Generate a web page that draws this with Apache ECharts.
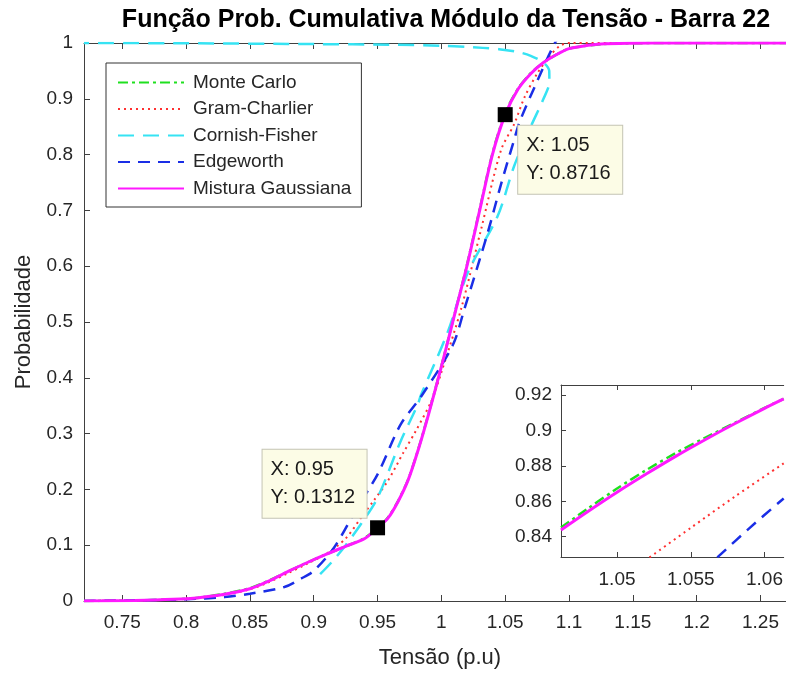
<!DOCTYPE html>
<html><head><meta charset="utf-8">
<script src="https://cdn.jsdelivr.net/npm/echarts@6/dist/echarts.min.js"></script>
<style>html,body{margin:0;padding:0;background:#fff}#c{width:786px;height:674px}</style>
</head><body><div id="c"></div>
<script>
// ---------- tick labels ----------
const xTicks = [0.75, 0.8, 0.85, 0.9, 0.95, 1, 1.05, 1.1, 1.15, 1.2, 1.25];
const yTicks = [0, 0.1, 0.2, 0.3, 0.4, 0.5, 0.6, 0.7, 0.8, 0.9, 1];
const insetXTicks = [1.05, 1.055, 1.06];
const insetYTicks = [0.84, 0.86, 0.88, 0.9, 0.92];

const names = ['Monte Carlo', 'Gram-Charlier', 'Cornish-Fisher', 'Edgeworth', 'Mistura Gaussiana'];

// ---------- main curves ----------
const mgX = [0.72, 0.76, 0.79, 0.81, 0.83, 0.85, 0.865, 0.88, 0.895, 0.91, 0.925, 0.94, 0.95, 0.958, 0.966, 0.974, 0.982, 0.99, 1.0, 1.01, 1.02, 1.03, 1.04, 1.05, 1.06, 1.07, 1.08, 1.09, 1.1, 1.11, 1.125, 1.15, 1.18, 1.3];
const mgY = [0.000, 0.001, 0.003, 0.006, 0.012, 0.022, 0.036, 0.053, 0.069, 0.084, 0.098, 0.112, 0.1312, 0.148, 0.178, 0.217, 0.272, 0.335, 0.42, 0.51, 0.60, 0.70, 0.80, 0.8716, 0.917, 0.945, 0.965, 0.979, 0.99, 0.994, 0.998, 0.9995, 1.0, 1.0];

const mcX = [0.72, 0.76, 0.79, 0.81, 0.83, 0.85, 0.865, 0.88, 0.895, 0.91, 0.925, 0.94, 0.95, 0.958, 0.966, 0.974, 0.982, 0.99, 1.0, 1.01, 1.02, 1.03, 1.04, 1.05, 1.06, 1.07, 1.08, 1.09, 1.1, 1.11, 1.125, 1.15, 1.18, 1.3];
const mcY = [0.000, 0.001, 0.003, 0.006, 0.013, 0.023, 0.037, 0.053, 0.069, 0.084, 0.098, 0.113, 0.131, 0.149, 0.179, 0.218, 0.273, 0.336, 0.421, 0.511, 0.602, 0.702, 0.802, 0.874, 0.918, 0.946, 0.965, 0.979, 0.99, 0.994, 0.998, 0.9995, 1.0, 1.0];

const gcX = [0.72, 0.76, 0.79, 0.81, 0.83, 0.85, 0.865, 0.88, 0.895, 0.91, 0.925, 0.937, 0.947, 0.958, 0.97, 0.98, 0.9925, 1.0, 1.0154, 1.031, 1.0467, 1.0571, 1.065, 1.075, 1.085, 1.093, 1.1, 1.3];
const gcY = [0.000, 0.001, 0.003, 0.006, 0.011, 0.021, 0.034, 0.050, 0.067, 0.085, 0.112, 0.149, 0.18, 0.215, 0.265, 0.305, 0.36, 0.41, 0.523, 0.665, 0.808, 0.855, 0.902, 0.945, 0.977, 0.995, 1.0, 1.0];

const cfX = [0.905, 0.915, 0.925, 0.937, 0.95, 0.968, 0.9813, 0.984, 1.005, 1.0206, 1.0441, 1.0571, 1.07, 1.08, 1.0846, 1.0845, 1.08, 1.07, 1.06, 1.045, 1.02, 1.0, 0.96, 0.9, 0.8, 0.72];
const cfY = [0.048, 0.072, 0.100, 0.138, 0.185, 0.286, 0.351, 0.369, 0.482, 0.588, 0.69, 0.78, 0.85, 0.90, 0.93, 0.95, 0.965, 0.977, 0.984, 0.989, 0.993, 0.995, 0.997, 0.998, 0.9995, 1.0];

const ewX = [0.72, 0.78, 0.80, 0.83, 0.85, 0.877, 0.89, 0.90, 0.916, 0.934, 0.95, 0.968, 0.984, 1.0088, 1.018, 1.0363, 1.0465, 1.0568, 1.0612, 1.0728, 1.0885, 1.1];
const ewY = [0.000, 0.002, 0.003, 0.007, 0.013, 0.025, 0.04, 0.054, 0.096, 0.167, 0.227, 0.316, 0.366, 0.458, 0.523, 0.66, 0.745, 0.825, 0.858, 0.92, 0.998, 1.04];

// ---------- inset (zoom) curves ----------
const zMgX = [1.0462, 1.048, 1.050, 1.052, 1.054, 1.056, 1.058, 1.060, 1.0613];
const zMgY = [0.8438, 0.8541, 0.8651, 0.8755, 0.8855, 0.8949, 0.9039, 0.9125, 0.9178];
const zMcX = [1.0462, 1.048, 1.050, 1.052, 1.054, 1.056, 1.058, 1.060, 1.0613];
const zMcY = [0.8452, 0.8558, 0.8672, 0.8777, 0.8873, 0.8960, 0.9043, 0.9127, 0.9178];
const zGcX = [1.0522, 1.055, 1.058, 1.0613];
const zGcY = [0.8283, 0.8450, 0.8627, 0.8814];
const zEwX = [1.0568, 1.059, 1.0613];
const zEwY = [0.8283, 0.8450, 0.8616];

// ---------- data tips ----------
const tipX = [0.95, 1.05];
const tipY = [0.1312, 0.8716];

const zip = (a, b) => a.map((v, i) => [v, b[i]]);

const FONT = 'Liberation Sans, Arial, Helvetica, sans-serif';
const AX = '#404040';
const TXT = '#262626';

const styles = [
  { color: '#1fe01f', type: [10, 4, 3, 4], width: 2.5 },
  { color: '#ff3030', type: [2, 4], width: 2 },
  { color: '#36e3f3', type: [16, 9], width: 2.5 },
  { color: '#1a2ee6', type: [12, 8], width: 2.5 },
  { color: '#ff19ff', type: 'solid', width: 3 }
];

function line(name, idx, data, xi, yi, z) {
  const s = styles[idx];
  return {
    type: 'line', name: name, data: data, xAxisIndex: xi, yAxisIndex: yi,
    symbol: 'none', showSymbol: false, smooth: 0.3, clip: true, z: z, silent: true,
    lineStyle: { color: s.color, type: s.type, width: s.width, cap: 'butt' },
    itemStyle: { color: s.color }
  };
}

const mainX = { min: 0.72, max: 1.27 };
const insetX = { min: 1.0462, max: 1.0613 };
const insetY = { min: 0.82854, max: 0.92565 };

const TIP_W = 88;

const option = {
  animation: false,
  backgroundColor: '#fff',
  title: {
    text: 'Função Prob. Cumulativa Módulo da Tensão - Barra 22',
    left: 441, top: 3, textAlign: 'center',
    textStyle: { fontFamily: FONT, fontSize: 25, fontWeight: 'bold', color: '#000' }
  },
  legend: {
    data: names, orient: 'vertical', left: 106, top: 63,
    padding: [10, 10, 9, 11], itemWidth: 66, itemHeight: 20, itemGap: 7.5,
    borderColor: '#333', borderWidth: 1, backgroundColor: '#fff', z: 20,
    itemStyle: { opacity: 0 },
    textStyle: { fontFamily: FONT, fontSize: 19, color: TXT, padding: [0, 0, 0, 4] }
  },
  grid: [
    { left: 84, top: 43, right: -2, bottom: 71, show: false },
    { left: 561, top: 385, right: -2, bottom: 117, show: true, backgroundColor: '#fff', borderWidth: 0, z: 10 }
  ],
  xAxis: [
    { type: 'value', gridIndex: 0, position: 'bottom', min: mainX.min, max: mainX.max,
      name: 'Tensão (p.u)', nameLocation: 'middle', nameGap: 46,
      nameTextStyle: { fontFamily: FONT, fontSize: 22, color: TXT, padding: [0, 0, 0, 10] },
      axisLine: { show: true, onZero: false, lineStyle: { color: AX, width: 1 } },
      axisTick: { show: true, inside: true, length: 6, customValues: xTicks, lineStyle: { color: AX } },
      axisLabel: { show: true, margin: 12, customValues: xTicks, fontFamily: FONT, fontSize: 19, color: TXT },
      splitLine: { show: false } },
    { type: 'value', gridIndex: 0, position: 'top', min: mainX.min, max: mainX.max,
      axisLine: { show: true, onZero: false, lineStyle: { color: AX, width: 1 } },
      axisTick: { show: true, inside: true, length: 6, customValues: xTicks, lineStyle: { color: AX } },
      axisLabel: { show: false }, splitLine: { show: false } },
    { type: 'value', gridIndex: 1, position: 'bottom', min: insetX.min, max: insetX.max, z: 11,
      axisLine: { show: true, onZero: false, lineStyle: { color: AX, width: 1 } },
      axisTick: { show: true, inside: true, length: 5, customValues: insetXTicks, lineStyle: { color: AX } },
      axisLabel: { show: true, margin: 13, customValues: insetXTicks, fontFamily: FONT, fontSize: 19, color: TXT },
      splitLine: { show: false } },
    { type: 'value', gridIndex: 1, position: 'top', min: insetX.min, max: insetX.max, z: 11,
      axisLine: { show: true, onZero: false, lineStyle: { color: AX, width: 1 } },
      axisTick: { show: true, inside: true, length: 5, customValues: insetXTicks, lineStyle: { color: AX } },
      axisLabel: { show: false }, splitLine: { show: false } }
  ],
  yAxis: [
    { type: 'value', gridIndex: 0, position: 'left', min: 0, max: 1,
      name: 'Probabilidade', nameLocation: 'middle', nameGap: 49,
      nameTextStyle: { fontFamily: FONT, fontSize: 22, color: TXT },
      axisLine: { show: true, onZero: false, lineStyle: { color: AX, width: 1 } },
      axisTick: { show: true, inside: true, length: 6, customValues: yTicks, lineStyle: { color: AX } },
      axisLabel: { show: true, margin: 11, customValues: yTicks, fontFamily: FONT, fontSize: 19, color: TXT },
      splitLine: { show: false } },
    { type: 'value', gridIndex: 1, position: 'left', min: insetY.min, max: insetY.max, z: 11,
      axisLine: { show: true, onZero: false, lineStyle: { color: AX, width: 1 } },
      axisTick: { show: true, inside: true, length: 5, customValues: insetYTicks, lineStyle: { color: AX } },
      axisLabel: { show: true, margin: 9, customValues: insetYTicks, fontFamily: FONT, fontSize: 19, color: TXT },
      splitLine: { show: false } }
  ],
  series: [
    line(names[0], 0, zip(mcX, mcY), 0, 0, 2),
    line(names[1], 1, zip(gcX, gcY), 0, 0, 3),
    line(names[2], 2, zip(cfX, cfY), 0, 0, 4),
    line(names[3], 3, zip(ewX, ewY), 0, 0, 5),
    line(names[4], 4, zip(mgX, mgY), 0, 0, 6),
    line(names[0], 0, zip(zMcX, zMcY), 2, 1, 12),
    line(names[1], 1, zip(zGcX, zGcY), 2, 1, 13),
    line(names[3], 3, zip(zEwX, zEwY), 2, 1, 14),
    line(names[4], 4, zip(zMgX, zMgY), 2, 1, 15),
    {
      type: 'scatter', name: 'datatips', xAxisIndex: 0, yAxisIndex: 0, z: 8, silent: true,
      symbol: 'rect', symbolSize: 15, itemStyle: { color: '#000', opacity: 1 },
      data: [
        { value: [tipX[0], tipY[0]], label: { verticalAlign: 'bottom', offset: [-(11 + TIP_W + 16), -10] } },
        { value: [tipX[1], tipY[1]], label: { verticalAlign: 'top', offset: [13, 11] } }
      ],
      label: {
        show: true, position: 'inside', align: 'left',
        formatter: p => 'X: ' + p.value[0] + '\nY: ' + p.value[1],
        width: TIP_W,
        fontFamily: FONT, fontSize: 20, lineHeight: 28, color: '#1a1a1a',
        backgroundColor: '#fcfce6', borderColor: '#c4c4b4', borderWidth: 1,
        padding: [6, 8, 6, 8]
      }
    }
  ]
};

const chart = echarts.init(document.getElementById('c'), null, { renderer: 'canvas' });
chart.setOption(option);
</script>
</body></html>
